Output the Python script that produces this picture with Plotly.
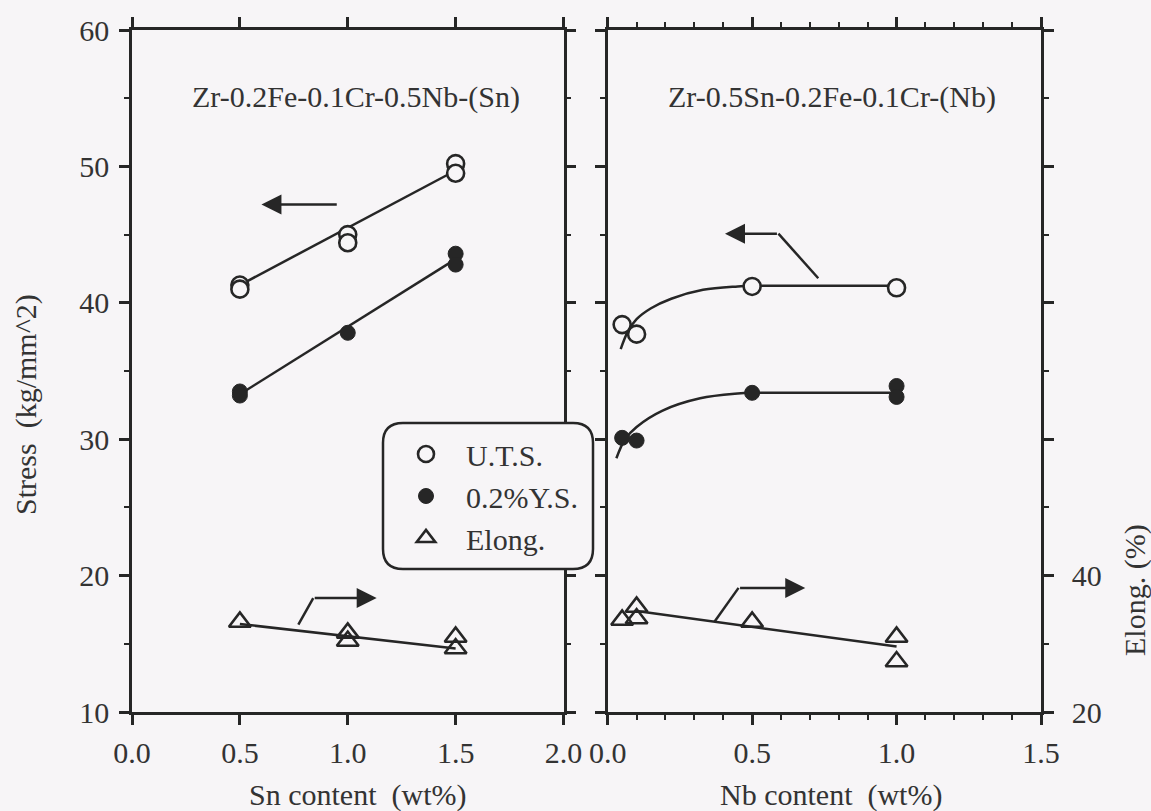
import plotly.graph_objects as go

# ---------------- data ----------------
# Left panel: Zr-0.2Fe-0.1Cr-0.5Nb-(Sn)
sn_uts_x = [0.5, 0.5, 1.0, 1.0, 1.5, 1.5]
sn_uts = [41.3, 41.0, 45.0, 44.4, 50.2, 49.5]
sn_ys_x = [0.5, 0.5, 1.0, 1.5, 1.5]
sn_ys = [33.5, 33.2, 37.8, 43.6, 42.8]
sn_el_x = [0.5, 1.0, 1.0, 1.5, 1.5]
sn_el = [33.2, 31.6, 30.4, 31.0, 29.3]

sn_fit_x = [0.5, 1.5]
sn_uts_fit = [41.3, 49.7]
sn_ys_fit = [33.3, 43.2]
sn_el_fit = [32.9, 29.3]

# Right panel: Zr-0.5Sn-0.2Fe-0.1Cr-(Nb)
nb_uts_x = [0.05, 0.1, 0.5, 1.0]
nb_uts = [38.4, 37.7, 41.2, 41.1]
nb_ys_x = [0.05, 0.1, 0.5, 1.0, 1.0]
nb_ys = [30.1, 29.9, 33.4, 33.9, 33.1]
nb_el_x = [0.05, 0.1, 0.1, 0.5, 1.0, 1.0]
nb_el = [33.5, 35.4, 33.7, 33.2, 31.0, 27.4]

nb_uts_curve_x = [0.045, 0.07, 0.1, 0.15, 0.22, 0.33, 0.45, 0.5]
nb_uts_curve = [36.6, 37.9, 38.8, 39.6, 40.3, 40.95, 41.2, 41.25]
nb_ys_curve_x = [0.03, 0.06, 0.1, 0.19, 0.32, 0.45, 0.5]
nb_ys_curve = [28.6, 30.0, 30.9, 32.1, 33.0, 33.35, 33.4]
nb_flat_x = [0.5, 1.0]
nb_uts_flat = [41.25, 41.25]
nb_ys_flat = [33.4, 33.4]
nb_el_fit_x = [0.1, 1.0]
nb_el_fit = [34.8, 29.6]

stress_ticks = [10, 20, 30, 40, 50, 60]
sn_ticks = [0.0, 0.5, 1.0, 1.5, 2.0]
nb_ticks = [0.0, 0.5, 1.0, 1.5]
el_ticks = [20, 40]

# ---------------- style ----------------
BG = "#f7f5f7"
INK = "#262626"
TXT = "#333333"
FONT = "Liberation Serif, Times New Roman, serif"
LW = 2.5
FS = 30

fig = go.Figure()

def line(x, y, xa, ya, shape="linear"):
    fig.add_trace(go.Scatter(x=x, y=y, xaxis=xa, yaxis=ya, mode="lines",
                             line=dict(color=INK, width=LW, shape=shape, smoothing=1.0),
                             showlegend=False, hoverinfo="skip"))

# lines
line(sn_fit_x, sn_uts_fit, "x", "y")
line(sn_fit_x, sn_ys_fit, "x", "y")
line(sn_fit_x, [v / 2 for v in sn_el_fit], "x", "y")
line(nb_uts_curve_x, nb_uts_curve, "x2", "y2", "spline")
line(nb_ys_curve_x, nb_ys_curve, "x2", "y2", "spline")
line(nb_flat_x, nb_uts_flat, "x2", "y2")
line(nb_flat_x, nb_ys_flat, "x2", "y2")
line(nb_el_fit_x, nb_el_fit, "x2", "y3")

uts_marker = dict(symbol="circle", size=17, color=BG, line=dict(color=INK, width=2.6))
ys_marker = dict(symbol="circle", size=15, color=INK, line=dict(color=INK, width=1))
el_marker = dict(symbol="triangle-up-open", size=19, color=INK, line=dict(color=INK, width=2.6))

fig.add_trace(go.Scatter(x=sn_uts_x, y=sn_uts, xaxis="x", yaxis="y", mode="markers",
                         marker=uts_marker, name="U.T.S."))
fig.add_trace(go.Scatter(x=sn_ys_x, y=sn_ys, xaxis="x", yaxis="y", mode="markers",
                         marker=ys_marker, name="0.2%Y.S."))
fig.add_trace(go.Scatter(x=sn_el_x, y=[v / 2 for v in sn_el], xaxis="x", yaxis="y", mode="markers",
                         marker=el_marker, name="Elong."))
fig.add_trace(go.Scatter(x=nb_uts_x, y=nb_uts, xaxis="x2", yaxis="y2", mode="markers",
                         marker=uts_marker, showlegend=False))
fig.add_trace(go.Scatter(x=nb_ys_x, y=nb_ys, xaxis="x2", yaxis="y2", mode="markers",
                         marker=ys_marker, showlegend=False))
fig.add_trace(go.Scatter(x=nb_el_x, y=nb_el, xaxis="x2", yaxis="y3", mode="markers",
                         marker=el_marker, showlegend=False))

tickfont = dict(family=FONT, size=FS, color=TXT)
common_axis = dict(showline=True, linewidth=LW, linecolor=INK, showgrid=False, zeroline=False,
                   ticks="outside", tickwidth=LW, tickcolor=INK, tickfont=tickfont)

W, H = 1151, 811
L, R, T, B = 132, 110, 30, 99
pw = W - L - R
ph = H - T - B

def px_x(p):
    return (p - L) / pw

def px_y(p):
    return (H - B - p) / ph

fig.update_layout(
    width=W, height=H,
    margin=dict(l=L, r=R, t=T, b=B),
    paper_bgcolor=BG, plot_bgcolor=BG,
    font=dict(family=FONT, color=TXT),
    xaxis=dict(common_axis, domain=[0, px_x(563.5)], range=[0, 2.0], tickvals=sn_ticks,
               ticktext=[f"{v:.1f}" for v in sn_ticks], ticklen=10, mirror="ticks",
               anchor="y", ticklabelstandoff=2),
    yaxis=dict(common_axis, domain=[0, 1], range=[10, 60], tickvals=stress_ticks, ticklen=10,
               mirror="ticks", anchor="x", ticklabelstandoff=4,
               minor=dict(dtick=5, tick0=10, ticklen=5, ticks="outside", tickwidth=2, tickcolor=INK)),
    xaxis2=dict(common_axis, domain=[px_x(607.7), 1], range=[0, 1.5], tickvals=nb_ticks,
                ticktext=[f"{v:.1f}" for v in nb_ticks], ticklen=10, mirror="ticks", anchor="y2",
                ticklabelstandoff=2,
                minor=dict(dtick=0.1, tick0=0, ticklen=5, ticks="outside", tickwidth=2, tickcolor=INK)),
    yaxis2=dict(common_axis, domain=[0, 1], range=[10, 60], tickvals=stress_ticks, ticklen=10,
                showticklabels=False, mirror="ticks", anchor="x2",
                minor=dict(dtick=5, tick0=10, ticklen=5, ticks="outside", tickwidth=2, tickcolor=INK)),
    yaxis3=dict(common_axis, range=[20, 120], tickvals=el_ticks, ticklen=10, overlaying="y2",
                side="right", anchor="x2", ticklabelstandoff=12),
    legend=dict(x=px_x(386), y=px_y(428), xanchor="left", yanchor="top",
                bgcolor="rgba(0,0,0,0)", borderwidth=0,
                font=dict(family=FONT, size=FS, color=TXT),
                itemwidth=70, tracegroupgap=0),
    showlegend=True,
)

# rounded legend box
x0, x1 = px_x(383), px_x(593)
y0, y1 = px_y(569), px_y(423)
rx, ry = 20 / pw, 20 / ph
path = (f"M {x0+rx},{y1} L {x1-rx},{y1} Q {x1},{y1} {x1},{y1-ry} "
        f"L {x1},{y0+ry} Q {x1},{y0} {x1-rx},{y0} L {x0+rx},{y0} "
        f"Q {x0},{y0} {x0},{y0+ry} L {x0},{y1-ry} Q {x0},{y1} {x0+rx},{y1} Z")
shapes = [dict(type="path", path=path, xref="paper", yref="paper", fillcolor=BG,
               line=dict(color=INK, width=LW), layer="above")]

# bent arrow shafts
shapes.append(dict(type="line", xref="x", yref="y", x0=0.771, y0=16.4, x1=0.84, y1=18.35,
                   line=dict(color=INK, width=LW)))
shapes.append(dict(type="line", xref="x2", yref="y2", x0=0.729, y0=41.8, x1=0.591, y1=45.07,
                   line=dict(color=INK, width=LW)))
shapes.append(dict(type="line", xref="x2", yref="y2", x0=0.369, y0=16.6, x1=0.453, y1=19.1,
                   line=dict(color=INK, width=LW)))
fig.update_layout(shapes=shapes)

def arrow(xref, yref, tx, ty, hx, hy):
    return dict(xref=xref, yref=yref, axref=xref, ayref=yref, x=hx, y=hy, ax=tx, ay=ty,
                text="", showarrow=True, arrowhead=2, arrowsize=1.6, arrowwidth=LW,
                arrowcolor=INK, standoff=0, startstandoff=0)

def label(text, x, y, angle=0, size=FS):
    return dict(text=text, xref="paper", yref="paper", x=px_x(x), y=px_y(y),
                xanchor="center", yanchor="middle", showarrow=False, textangle=angle,
                font=dict(family=FONT, size=size, color=TXT))

annotations = [
    arrow("x", "y", 0.956, 47.2, 0.60, 47.2),
    arrow("x", "y", 0.84, 18.35, 1.134, 18.35),
    arrow("x2", "y2", 0.591, 45.07, 0.406, 45.07),
    arrow("x2", "y2", 0.453, 19.1, 0.684, 19.1),
    label("Zr-0.2Fe-0.1Cr-0.5Nb-(Sn)", 356, 97),
    label("Zr-0.5Sn-0.2Fe-0.1Cr-(Nb)", 832, 97),
    label("Sn content  (wt%)", 357, 795),
    label("Nb content  (wt%)", 831, 795),
    label("Stress  (kg/mm^2)", 26, 405, -90),
    label("Elong. (%)", 1135, 590, -90),
]
fig.update_layout(annotations=annotations)

fig.write_html("out.html")
